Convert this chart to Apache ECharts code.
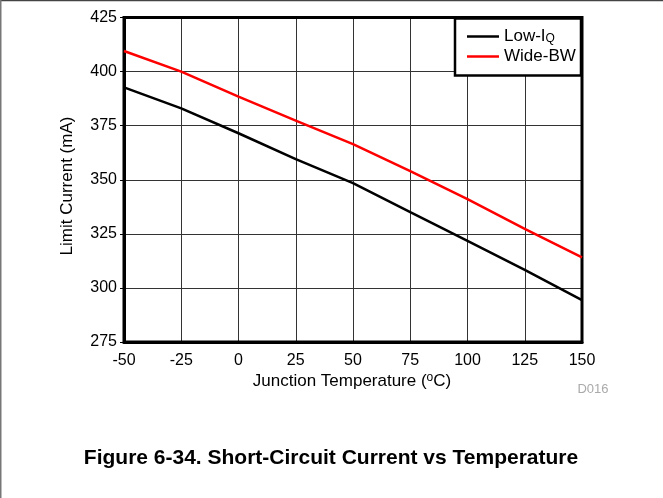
<!DOCTYPE html>
<html><head><meta charset="utf-8">
<script src="https://cdn.jsdelivr.net/npm/echarts@6/dist/echarts.min.js"></script>
<style>html,body{margin:0;padding:0;background:#fff}#c{width:663px;height:498px}</style>
</head><body><div id="c"></div>
<script>
const temps = [-50, -25, 0, 25, 50, 75, 100, 125, 150];
const lowIq = [392.7, 383.0, 371.5, 359.5, 348.4, 335.0, 321.7, 308.3, 294.4];
const wideBw = [409.5, 400.0, 388.4, 377.3, 366.5, 354.0, 341.0, 327.3, 314.1];
const seriesNames = ['Low-IQ', 'Wide-BW'];
const FONT = 'Liberation Sans, Arial, sans-serif';

const chart = echarts.init(document.getElementById('c'), null, {renderer: 'canvas'});
chart.setOption({
  animation: false,
  backgroundColor: '#fff',
  grid: {left: 124, top: 17.5, right: 81, bottom: 156, show: true, borderColor: '#000', borderWidth: 3, backgroundColor: 'transparent', z: 3},
  xAxis: {
    type: 'value', min: -50, max: 150, interval: 25,
    axisLine: {show: true, onZero: false, lineStyle: {color: '#000', width: 3}},
    axisTick: {show: false},
    axisLabel: {color: '#000', fontSize: 16, fontFamily: FONT, margin: 11},
    splitLine: {show: true, lineStyle: {color: '#333', width: 1}}
  },
  yAxis: {
    type: 'value', min: 275, max: 425, interval: 25,
    axisLine: {show: true, onZero: false, lineStyle: {color: '#000', width: 3}},
    axisTick: {show: true, inside: false, length: 4, lineStyle: {color: '#000', width: 1}},
    axisLabel: {color: '#000', fontSize: 16, fontFamily: FONT, margin: 7},
    splitLine: {show: true, lineStyle: {color: '#333', width: 1}}
  },
  legend: {
    show: true, orient: 'vertical', left: 462, top: 21, itemGap: 3,
    itemWidth: 32, itemHeight: 2.5, icon: 'rect',
    data: seriesNames,
    formatter: function (n) { return n === 'Low-IQ' ? '{m|Low-I}{s|Q}' : '{m|Wide-BW}'; },
    textStyle: {color: '#000', fontFamily: FONT, fontSize: 17, lineHeight: 17,
      rich: {m: {fontSize: 17, lineHeight: 17, fontFamily: FONT, color: '#000'}, s: {fontSize: 12, lineHeight: 17, fontFamily: FONT, color: '#000', verticalAlign: 'bottom', padding: [7, 0, 0, 0]}}},
    z: 10
  },
  series: [
    {name: seriesNames[0], type: 'line', data: temps.map((t, i) => [t, lowIq[i]]), showSymbol: false, lineStyle: {color: '#000', width: 2.5}, itemStyle: {color: '#000'}, z: 5},
    {name: seriesNames[1], type: 'line', data: temps.map((t, i) => [t, wideBw[i]]), showSymbol: false, lineStyle: {color: '#ff0000', width: 2.5}, itemStyle: {color: '#ff0000'}, z: 5}
  ],
  graphic: [
    {type: 'line', shape: {x1: 0, y1: 0.5, x2: 663, y2: 0.5}, style: {stroke: '#444', lineWidth: 1.5}},
    {type: 'line', shape: {x1: 0.75, y1: 0, x2: 0.75, y2: 498}, style: {stroke: '#777', lineWidth: 1.5}},
    {type: 'rect', shape: {x: 455, y: 18.5, width: 126, height: 57}, style: {fill: '#fff', stroke: '#000', lineWidth: 2.5}, z: 8},
    {type: 'text', x: 67, y: 186, rotation: Math.PI / 2, style: {text: 'Limit Current (mA)', font: '17px ' + FONT, fill: '#000', align: 'center', verticalAlign: 'middle'}},
    {type: 'text', x: 352, y: 381, style: {
      text: '{m|Junction Temperature (}{s|o}{m|C)}', align: 'center', verticalAlign: 'middle',
      rich: {m: {fontSize: 17, fontFamily: FONT, fill: '#000'}, s: {fontSize: 12, fontFamily: FONT, fill: '#000', verticalAlign: 'top', padding: [0, 0, 7, 0]}}}},
    {type: 'text', x: 593, y: 389, style: {text: 'D016', font: '13px ' + FONT, fill: '#aaa', align: 'center', verticalAlign: 'middle'}},
    {type: 'text', x: 331, y: 458, style: {text: 'Figure 6-34. Short-Circuit Current vs Temperature', font: 'bold 21px ' + FONT, fill: '#000', align: 'center', verticalAlign: 'middle'}}
  ]
});
</script></body></html>
